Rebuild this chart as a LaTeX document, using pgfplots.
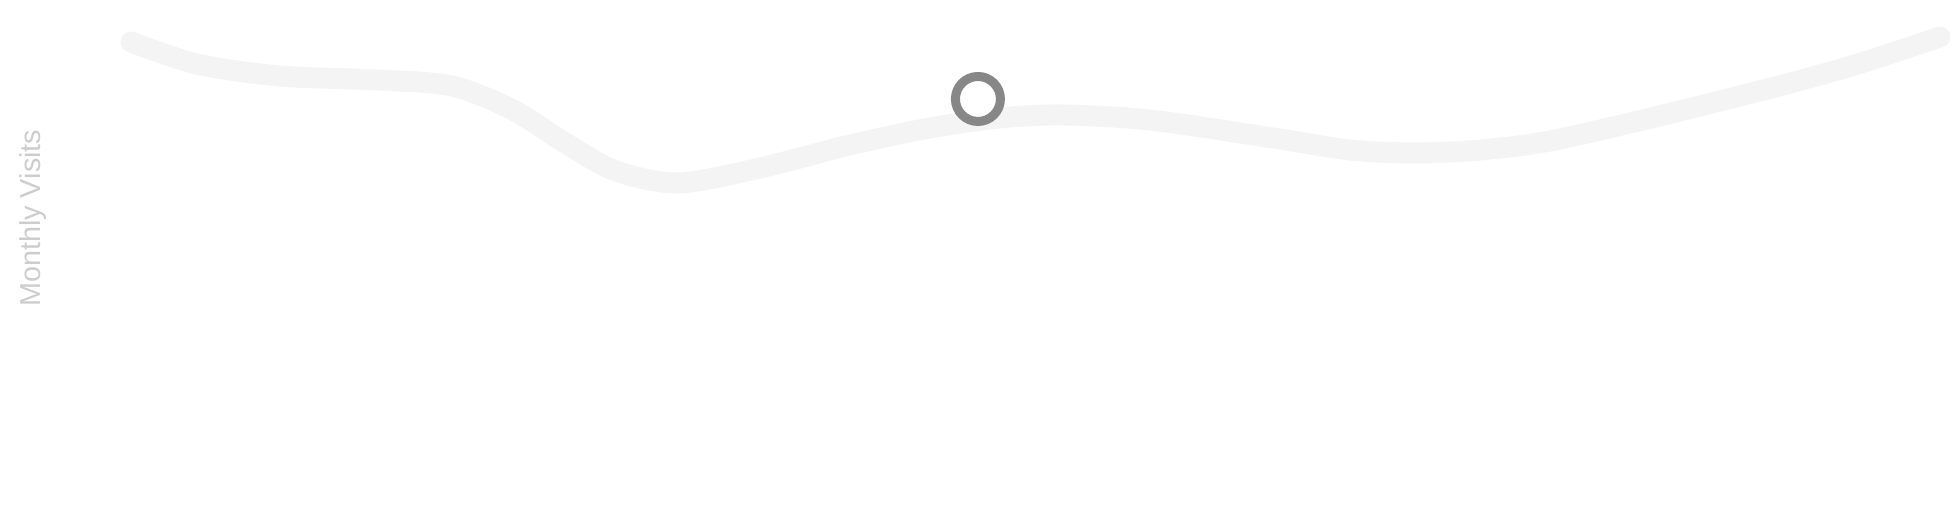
\documentclass[border=0pt]{standalone}
\usepackage{pgfplots}
\pgfplotsset{compat=1.18}
\usepackage{fontspec}
\setmainfont{Liberation Sans}

\definecolor{linegray}{HTML}{F4F4F4}
\definecolor{markgray}{HTML}{878787}
\definecolor{labelgray}{HTML}{CDCDCD}

\begin{document}
\begin{tikzpicture}
\begin{axis}[
    scale only axis,
    width=19.56cm,
    height=5.26cm,
    xmin=-0.7966, xmax=11.0974,
    ymin=0, ymax=52.6,
    axis line style={draw=none},
    xtick=\empty, ytick=\empty,
    clip=false,
    ylabel={Monthly Visits},
    ylabel style={at={(rel axis cs:0.0169,0.5850)}, anchor=center,
                  font=\fontsize{8.2}{10}\selectfont, text=labelgray},
]
% visits (thousands) per month
\addplot[linegray, line width=0.21cm, smooth, tension=0.5,
         line cap=round, no marks]
coordinates{(0.000,48.4) (0.400,46.2) (0.900,45.0) (1.500,44.6)
            (1.950,44.0) (2.323,41.6) (2.650,38.2) (2.950,35.5) (3.330,34.3)
            (3.825,35.8) (4.372,38.1) (4.858,39.8) (5.284,40.8)
            (5.661,41.1) (6.196,40.6) (6.944,38.8) (7.412,37.6) (7.802,37.3)
            (8.203,37.6) (8.659,38.6) (9.516,41.9) (10.380,45.6) (11.000,48.9)};

% highlighted point
\addplot[only marks, mark=*, mark size=0.225cm,
         mark options={draw=markgray, fill=white, line width=0.09cm}]
coordinates{(5.150,42.7)};
\end{axis}
\pgfresetboundingbox
\useasboundingbox (current axis.south west) rectangle (current axis.north east);
\end{tikzpicture}
\end{document}
